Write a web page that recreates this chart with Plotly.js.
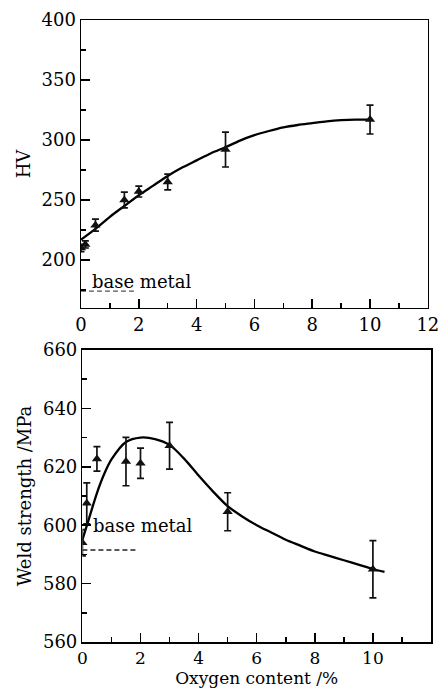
<!DOCTYPE html>
<html>
<head>
<meta charset="utf-8">
<script src="https://cdn.plot.ly/plotly-3.0.1.min.js"></script>
<style>html,body{margin:0;padding:0;background:#fff}#chart{width:441px;height:688px}</style>
</head>
<body>
<div id="chart"></div>
<script>
// ---- Top panel: hardness HV ----
const hvX = [0, 0.15, 0.5, 1.5, 2, 3, 5, 10];
const hvY = [210, 213, 229, 250, 257, 265, 292, 317];
const hvErr = [3, 3, 5, 6.5, 4.5, 6.5, 14.5, 12];
const hvFitX = [0, 0.5, 1, 1.5, 2, 2.5, 3, 3.5, 4, 4.5, 5, 5.5, 6, 6.5, 7, 7.5, 8, 8.5, 9, 9.5, 10];
const hvFitY = [217, 226, 236, 245, 254, 262, 270, 277, 283, 289, 294, 299.5, 304, 307.5, 310.5, 312.5, 314, 315.5, 316.5, 317, 317];
const hvBaseX = [0, 1.9];
const hvBaseY = [174, 174];

// ---- Bottom panel: weld strength ----
const wsX = [0, 0.15, 0.5, 1.5, 2, 3, 5, 10];
const wsY = [594, 607.5, 622.7, 621.8, 621.2, 627.2, 604.6, 584.9];
const wsErr = [4.5, 7, 4.2, 8.3, 5.2, 8, 6.5, 9.8];
const wsFitX = [0, 0.25, 0.5, 0.75, 1, 1.5, 2, 2.5, 3, 3.5, 4, 4.5, 5, 5.5, 6, 6.5, 7, 7.5, 8, 8.5, 9, 9.5, 10, 10.4];
const wsFitY = [595, 603, 611, 617.5, 622.5, 628.5, 630, 629.5, 627.5, 622.8, 617, 611.5, 606.5, 603, 600, 597.5, 595, 593, 591, 589.5, 588, 586.5, 585, 584];
const wsBaseX = [0, 1.85];
const wsBaseY = [591.5, 591.5];

const xTickVals = [0, 2, 4, 6, 8, 10, 12];
const baseLabel = 'base metal';

const FONT = 'DejaVu Serif';
const FS = 18;

const traces = [
  {x: hvFitX, y: hvFitY, type: 'scatter', mode: 'lines', line: {color: '#000', width: 2.3, shape: 'spline', smoothing: 0.8}, xaxis: 'x', yaxis: 'y', hoverinfo: 'skip'},
  {x: hvX, y: hvY, type: 'scatter', mode: 'markers', marker: {symbol: 'triangle-up', size: 9, color: '#111'},
   error_y: {type: 'data', array: hvErr, color: '#111', thickness: 1.7, width: 3.5}, xaxis: 'x', yaxis: 'y'},
  {x: hvBaseX, y: hvBaseY, type: 'scatter', mode: 'lines', line: {color: '#555', width: 1.3, dash: '5px,3px'}, xaxis: 'x', yaxis: 'y'},
  {x: wsFitX, y: wsFitY, type: 'scatter', mode: 'lines', line: {color: '#000', width: 2.3, shape: 'spline', smoothing: 0.8}, xaxis: 'x2', yaxis: 'y2', hoverinfo: 'skip'},
  {x: wsX, y: wsY, type: 'scatter', mode: 'markers', marker: {symbol: 'triangle-up', size: 9, color: '#111'},
   error_y: {type: 'data', array: wsErr, color: '#111', thickness: 1.7, width: 3.5}, xaxis: 'x2', yaxis: 'y2'},
  {x: wsBaseX, y: wsBaseY, type: 'scatter', mode: 'lines', line: {color: '#222', width: 1.3, dash: '5px,3px'}, xaxis: 'x2', yaxis: 'y2'}
];

const axisCommon = {
  showline: true, linecolor: '#000', linewidth: 1.5, mirror: true,
  ticks: 'inside', ticklen: 9, tickwidth: 1.5, tickcolor: '#000',
  showgrid: false, zeroline: false,
  tickfont: {family: FONT, size: FS, color: '#000'}
};

const layout = {
  width: 441, height: 688,
  margin: {l: 81, r: 10, t: 20, b: 46},
  paper_bgcolor: '#fff', plot_bgcolor: '#fff',
  showlegend: false,
  font: {family: FONT, color: '#000'},
  xaxis: Object.assign({}, axisCommon, {
    domain: [0, 0.991], range: [0, 12], tickvals: xTickVals, anchor: 'y',
    minor: {dtick: 1, ticks: 'inside', ticklen: 5, tickwidth: 1.5, tickcolor: '#000'}
  }),
  yaxis: Object.assign({}, axisCommon, {
    domain: [0.537, 1], range: [160, 400], dtick: 50, tick0: 200, anchor: 'x',
    minor: {dtick: 25, ticks: 'inside', ticklen: 5, tickwidth: 1.5, tickcolor: '#000'},
    title: {text: 'HV', font: {family: FONT, size: FS, color: '#000'}, standoff: 6}
  }),
  xaxis2: Object.assign({}, axisCommon, {
    domain: [0.004, 1], range: [0, 12], tickvals: xTickVals, anchor: 'y2',
    tickfont: {family: FONT, size: 17, color: '#000'},
    minor: {dtick: 1, ticks: 'inside', ticklen: 5, tickwidth: 1.5, tickcolor: '#000'},
    title: {text: 'Oxygen content /%', font: {family: FONT, size: 17, color: '#000'}, standoff: 7}
  }),
  yaxis2: Object.assign({}, axisCommon, {
    domain: [0, 0.4695], range: [560, 660], dtick: 20, anchor: 'x2',
    minor: {dtick: 10, ticks: 'inside', ticklen: 5, tickwidth: 1.5, tickcolor: '#000'},
    title: {text: 'Weld strength /MPa', font: {family: FONT, size: FS, color: '#000'}, standoff: 6}
  }),
  annotations: [
    {xref: 'x', yref: 'y', x: 0.3, y: 182, text: baseLabel, showarrow: false, xanchor: 'left', yanchor: 'middle',
     font: {family: FONT, size: FS, color: '#000'}},
    {xref: 'x2', yref: 'y2', x: 0.3, y: 600, text: baseLabel, showarrow: false, xanchor: 'left', yanchor: 'middle',
     font: {family: FONT, size: FS, color: '#000'}}
  ]
};

Plotly.newPlot('chart', traces, layout, {staticPlot: true, displayModeBar: false});
</script>
</body>
</html>
